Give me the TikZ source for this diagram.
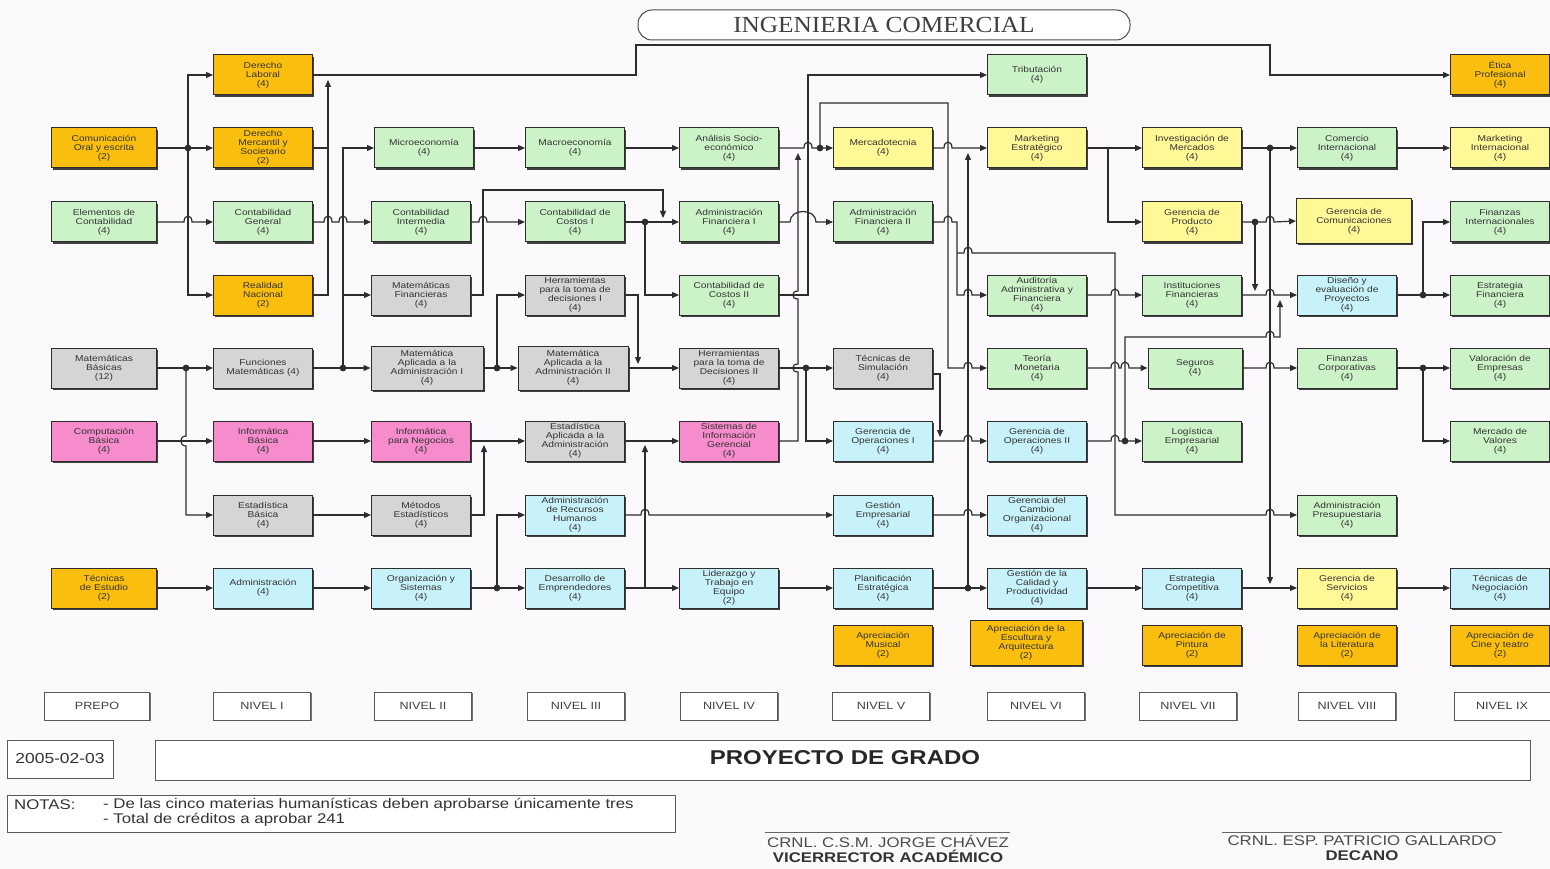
\documentclass[tikz,border=0pt]{standalone}
\usepackage{fontspec}
\setmainfont{Liberation Sans}[FakeStretch=1.2]
\newfontfamily\titlefont{Liberation Serif}[FakeStretch=1.1]
\usetikzlibrary{arrows.meta,shadows}

\definecolor{cOrange}{RGB}{250,190,15}
\definecolor{cGreen}{RGB}{204,242,200}
\definecolor{cGray}{RGB}{214,212,214}
\definecolor{cPink}{RGB}{246,140,204}
\definecolor{cCyan}{RGB}{200,242,250}
\definecolor{cYellow}{RGB}{255,248,150}
\definecolor{cBg}{RGB}{252,249,252}
\definecolor{cLine}{RGB}{45,45,45}

\tikzset{
  course/.style={draw=cLine, line width=1pt, minimum width=99pt, minimum height=40pt,
    text width=97pt, align=center, inner sep=0.5pt, font=\fontsize{8.5}{9.1}\selectfont,
    text=black!80, general shadow={shadow xshift=1.6pt, shadow yshift=-1.6pt, fill=black!75}},
  boxO/.style={course, fill=cOrange},
  boxG/.style={course, fill=cGreen},
  boxK/.style={course, fill=cGray},
  boxP/.style={course, fill=cPink},
  boxC/.style={course, fill=cCyan},
  boxY/.style={course, fill=cYellow},
  prepo/.style={minimum width=105pt},
  level/.style={draw=black!65, line width=0.8pt, fill=white, minimum width=97pt,
    minimum height=28pt, font=\fontsize{10.5}{12}\selectfont, text=black!75,
    general shadow={shadow xshift=1.3pt, shadow yshift=-1.3pt, fill=black!55}},
  conn/.style={draw=cLine, line width=1.2pt, -{Triangle[length=7pt,width=6pt]}},
  wire/.style={draw=cLine, line width=1.2pt},
  frame/.style={draw=black!65, line width=0.8pt, fill=white},
}

\begin{document}
\begin{tikzpicture}[x=1pt,y=-1pt]
\fill[cBg] (0,0) rectangle (1550,869);
\useasboundingbox (0,0) rectangle (1550,869);

% title
\node[draw=black!70, line width=1pt, rounded corners=14pt, fill=white, minimum width=492pt,
  minimum height=30pt, font=\titlefont\fontsize{23}{25}\selectfont, text=black!75]
  (title) at (884,25) {INGENIERIA COMERCIAL};

% ---------- PREPO ----------
\node[boxO,prepo] (com) at (104,148) {Comunicación\\Oral y escrita\\(2)};
\node[boxG,prepo] (elc) at (104,222) {Elementos de\\Contabilidad\\(4)};
\node[boxK,prepo] (mab) at (104,368) {Matemáticas\\Básicas\\(12)};
\node[boxP,prepo] (cob) at (104,441) {Computación\\Básica\\(4)};
\node[boxO,prepo] (tes) at (104,588) {Técnicas\\de Estudio\\(2)};

% ---------- NIVEL I ----------
\node[boxO] (dlab) at (263,75) {Derecho\\Laboral\\(4)};
\node[boxO] (dmer) at (263,148) {Derecho\\Mercantil y\\Societario\\(2)};
\node[boxG] (cgen) at (263,222) {Contabilidad\\General\\(4)};
\node[boxO] (rnac) at (263,295) {Realidad\\Nacional\\(2)};
\node[boxK] (fmat) at (263,368) {Funciones\\Matemáticas (4)};
\node[boxP] (infb) at (263,441) {Informática\\Básica\\(4)};
\node[boxK] (estb) at (263,515) {Estadística\\Básica\\(4)};
\node[boxC] (adm)  at (263,588) {Administración\\(4)};

% ---------- NIVEL II ----------
\node[boxG] (micro) at (424,148) {Microeconomía\\(4)};
\node[boxG] (cint)  at (421,222) {Contabilidad\\Intermedia\\(4)};
\node[boxK] (mfin)  at (421,295) {Matemáticas\\Financieras\\(4)};
\node[boxK, minimum width=112pt, minimum height=44pt] (mapl1) at (427,368) {Matemática\\Aplicada a la\\Administración I\\(4)};
\node[boxP] (infn)  at (421,441) {Informática\\para Negocios\\(4)};
\node[boxK] (mest)  at (421,515) {Métodos\\Estadísticos\\(4)};
\node[boxC] (orgs)  at (421,588) {Organización y\\Sistemas\\(4)};

% ---------- NIVEL III ----------
\node[boxG] (macro) at (575,148) {Macroeconomía\\(4)};
\node[boxG] (cco1)  at (575,222) {Contabilidad de\\Costos I\\(4)};
\node[boxK] (her1)  at (575,295) {Herramientas\\para la toma de\\decisiones I\\(4)};
\node[boxK, minimum width=110pt, minimum height=44pt] (mapl2) at (573,368) {Matemática\\Aplicada a la\\Administración II\\(4)};
\node[boxK] (esta)  at (575,441) {Estadística\\Aplicada a la\\Administración\\(4)};
\node[boxC] (arh)   at (575,515) {Administración\\de Recursos\\Humanos\\(4)};
\node[boxC] (demp)  at (575,588) {Desarrollo de\\Emprendedores\\(4)};

% ---------- NIVEL IV ----------
\node[boxG] (ase)  at (729,148) {Análisis Socio-\\económico\\(4)};
\node[boxG] (af1)  at (729,222) {Administración\\Financiera I\\(4)};
\node[boxG] (cco2) at (729,295) {Contabilidad de\\Costos II\\(4)};
\node[boxK] (her2) at (729,368) {Herramientas\\para la toma de\\Decisiones II\\(4)};
\node[boxP] (sig)  at (729,441) {Sistemas de\\Información\\Gerencial\\(4)};
\node[boxC] (lid)  at (729,588) {Liderazgo y\\Trabajo en\\Equipo\\(2)};

% ---------- NIVEL V ----------
\node[boxY] (merc) at (883,148) {Mercadotecnia\\(4)};
\node[boxG] (af2)  at (883,222) {Administración\\Financiera II\\(4)};
\node[boxK] (tsim) at (883,368) {Técnicas de\\Simulación\\(4)};
\node[boxC] (gop1) at (883,441) {Gerencia de\\Operaciones I\\(4)};
\node[boxC] (gemp) at (883,515) {Gestión\\Empresarial\\(4)};
\node[boxC] (pest) at (883,588) {Planificación\\Estratégica\\(4)};
\node[boxO] (amus) at (883,645) {Apreciación\\Musical\\(2)};

% ---------- NIVEL VI ----------
\node[boxG] (trib) at (1037,75)  {Tributación\\(4)};
\node[boxY] (mkte) at (1037,148) {Marketing\\Estratégico\\(4)};
\node[boxG] (audi) at (1037,295) {Auditoría\\Administrativa y\\Financiera\\(4)};
\node[boxG] (tmon) at (1037,368) {Teoría\\Monetaria\\(4)};
\node[boxC] (gop2) at (1037,441) {Gerencia de\\Operaciones II\\(4)};
\node[boxC] (gcam) at (1037,515) {Gerencia del\\Cambio\\Organizacional\\(4)};
\node[boxC] (gcal) at (1037,588) {Gestión de la\\Calidad y\\Productividad\\(4)};
\node[boxO, minimum width=112pt, minimum height=45pt, text width=110pt] (aesc) at (1026,643) {Apreciación de la\\Escultura y\\Arquitectura\\(2)};

% ---------- NIVEL VII ----------
\node[boxY] (imer) at (1192,148) {Investigación de\\Mercados\\(4)};
\node[boxY] (gpro) at (1192,222) {Gerencia de\\Producto\\(4)};
\node[boxG] (ifin) at (1192,295) {Instituciones\\Financieras\\(4)};
\node[boxG, minimum width=94pt, text width=92pt] (seg) at (1195,368) {Seguros\\(4)};
\node[boxG] (logi) at (1192,441) {Logística\\Empresarial\\(4)};
\node[boxC] (ecom) at (1192,588) {Estrategia\\Competitiva\\(4)};
\node[boxO] (apin) at (1192,645) {Apreciación de\\Pintura\\(2)};

% ---------- NIVEL VIII ----------
\node[boxG] (cinter) at (1347,148) {Comercio\\Internacional\\(4)};
\node[boxY, minimum width=115pt, minimum height=45pt, text width=112pt] (gcom) at (1354,221) {Gerencia de\\Comunicaciones\\(4)};
\node[boxC] (dep)  at (1347,295) {Diseño y\\evaluación de\\Proyectos\\(4)};
\node[boxG] (fcor) at (1347,368) {Finanzas\\Corporativas\\(4)};
\node[boxG] (apre) at (1347,515) {Administración\\Presupuestaria\\(4)};
\node[boxY] (gser) at (1347,588) {Gerencia de\\Servicios\\(4)};
\node[boxO] (alit) at (1347,645) {Apreciación de\\la Literatura\\(2)};

% ---------- NIVEL IX ----------
\node[boxO] (etic)  at (1500,75)  {Ética\\Profesional\\(4)};
\node[boxY] (mkti)  at (1500,148) {Marketing\\Internacional\\(4)};
\node[boxG] (finti) at (1500,222) {Finanzas\\Internacionales\\(4)};
\node[boxG] (efin)  at (1500,295) {Estrategia\\Financiera\\(4)};
\node[boxG] (vemp)  at (1500,368) {Valoración de\\Empresas\\(4)};
\node[boxG] (mval)  at (1500,441) {Mercado de\\Valores\\(4)};
\node[boxC] (tneg)  at (1500,588) {Técnicas de\\Negociación\\(4)};
\node[boxO] (acin)  at (1500,645) {Apreciación de\\Cine y teatro\\(2)};

% ---------- junctions ----------
\coordinate (J1)  at (188,148);
\coordinate (J2)  at (186,368);
\coordinate (J3)  at (343,368);
\coordinate (J4)  at (645,222);
\coordinate (J5)  at (497,368);
\coordinate (J6)  at (497,588);
\coordinate (J7)  at (820,148);
\coordinate (J8)  at (806,368);
\coordinate (J9)  at (968,588);
\coordinate (J11) at (1125,441);
\coordinate (J12) at (1270,148);
\coordinate (J13) at (1255,222);
\coordinate (J14) at (1423,295);
\coordinate (J15) at (1423,368);

% ---------- PREPO -> I ----------
\draw[conn] (com.east) -- (dmer.west);
\draw[conn] (J1) |- (dlab.west);
\draw[conn] (J1) |- (rnac.west);
\draw[conn] (elc.east) -- (184,222) .. controls (184,214) and (192,214) .. (192,222) -- (cgen.west);
\draw[conn] (mab.east) -- (fmat.west);
\draw[conn] (J2) -- (186,436) .. controls (179,436) and (179,446) .. (186,446) |- (estb.west);
\draw[conn] (cob.east) -- (infb.west);
\draw[conn] (tes.east) -- (adm.west);

% ---------- I -> II, and the long top line ----------
\draw[conn] (dlab.east) -- (636,75) -- (636,45) -- (1270,45) -- (1270,75) -- (etic.west);
\draw[wire] (dmer.east) -- (328,148);
\draw[conn] (rnac.east) -- (328,295) -- (328,80);
\draw[conn] (cgen.east) -- (324,222) .. controls (324,214) and (332,214) .. (332,222)
  -- (339,222) .. controls (339,214) and (347,214) .. (347,222) -- (cint.west);
\draw[conn] (fmat.east) -- (mapl1.west);
\draw[conn] (J3) |- (micro.west);
\draw[conn] (343,295) -- (mfin.west);
\draw[conn] (infb.east) -- (infn.west);
\draw[conn] (estb.east) -- (mest.west);
\draw[conn] (adm.east) -- (orgs.west);

% ---------- II -> III ----------
\draw[conn] (micro.east) -- (macro.west);
\draw[conn] (cint.east) -- (479,222) .. controls (479,214) and (487,214) .. (487,222) -- (cco1.west);
\draw[conn] (mfin.east) -- (483,295) -- (483,190) -- (663,190) -- (663,218);
\draw[conn] (mapl1.east) -- (mapl2.west);
\draw[conn] (J5) |- (her1.west);
\draw[conn] (infn.east) -- (esta.west);
\draw[conn] (mest.east) -| (484,445);
\draw[conn] (orgs.east) -- (demp.west);
\draw[conn] (J6) |- (arh.west);

% ---------- III -> IV ----------
\draw[conn] (macro.east) -- (ase.west);
\draw[conn] (cco1.east) -- (af1.west);
\draw[conn] (J4) |- (cco2.west);
\draw[conn] (her1.east) -| (638,364);
\draw[conn] (mapl2.east) -- (her2.west);
\draw[conn] (esta.east) -- (sig.west);
\draw[conn] (demp.east) -- (lid.west);
\draw[conn] (645,588) -- (645,445);
\draw[conn] (arh.east) -- (641,515) .. controls (641,507) and (649,507) .. (649,515) -- (gemp.west);

% ---------- IV -> V ----------
\draw[conn] (ase.east) -- (804,148) .. controls (804,140) and (812,140) .. (812,148) -- (merc.west);
\draw[conn] (sig.east) -- (798,441) -- (798,372) .. controls (791,372) and (791,364) .. (798,364)
  -- (798,299) .. controls (791,299) and (791,291) .. (798,291) -- (798,153);
\draw[conn] (cco2.east) -- (808,295) -- (808,75) -- (trib.west);
\draw[conn] (af1.east) -- (790,222) .. controls (790,208) and (816,208) .. (816,222) -- (af2.west);
\draw[conn] (her2.east) -- (tsim.west);
\draw[conn] (J8) |- (gop1.west);
\draw[conn] (lid.east) -- (pest.west);

% ---------- V -> VI ----------
\draw[conn] (J7) -- (820,103) -- (948,103) -- (948,368)
  -- (964,368) .. controls (964,360) and (972,360) .. (972,368) -- (tmon.west);
\draw[conn] (merc.east) -- (944,148) .. controls (944,140) and (952,140) .. (952,148) -- (mkte.west);
\draw[conn] (af2.east) -- (944,222) .. controls (944,214) and (952,214) .. (952,222) -- (957,222)
  -- (957,295) -- (964,295) .. controls (964,287) and (972,287) .. (972,295) -- (audi.west);
\draw[conn] (957,253) -- (964,253) .. controls (964,245) and (972,245) .. (972,253) -- (1115,253)
  -- (1115,515) -- (1266,515) .. controls (1266,507) and (1274,507) .. (1274,515) -- (apre.west);
\draw[conn] ([yshift=-6pt]tsim.east) -| (940,437);
\draw[conn] (gop1.east) -- (964,441) .. controls (964,433) and (972,433) .. (972,441) -- (gop2.west);
\draw[conn] (gemp.east) -- (964,515) .. controls (964,507) and (972,507) .. (972,515) -- (gcam.west);
\draw[conn] (pest.east) -- (gcal.west);
\draw[conn] (J9) -- (968,153);

% ---------- VI -> VII ----------
\draw[conn] (mkte.east) -- (imer.west);
\draw[conn] (1108,148) |- (gpro.west);
\draw[conn] (audi.east) -- (1111,295) .. controls (1111,287) and (1119,287) .. (1119,295) -- (ifin.west);
\draw[conn] (tmon.east) -- (1111,368) .. controls (1111,360) and (1119,360) .. (1119,368)
  -- (1121,368) .. controls (1121,360) and (1129,360) .. (1129,368) -- (seg.west);
\draw[conn] (gop2.east) -- (1111,441) .. controls (1111,433) and (1119,433) .. (1119,441) -- (logi.west);
\draw[conn] (J11) -- (1125,337) -- (1266,337) .. controls (1266,329) and (1274,329) .. (1274,337)
  -- (1280,337) -- (1280,300);
\draw[conn] (gcal.east) -- (ecom.west);

% ---------- VII -> VIII ----------
\draw[conn] (imer.east) -- (cinter.west);
\draw[conn] (J12) -- (1270,584);
\draw[conn] (gpro.east) -- (1266,222) .. controls (1266,214) and (1274,214) .. (1274,222) -- (gcom.west);
\draw[conn] (J13) -- (1255,291);
\draw[conn] (ifin.east) -- (1266,295) .. controls (1266,287) and (1274,287) .. (1274,295) -- (dep.west);
\draw[conn] (seg.east) -- (1266,368) .. controls (1266,360) and (1274,360) .. (1274,368) -- (fcor.west);
\draw[conn] (ecom.east) -- (gser.west);

% ---------- VIII -> IX ----------
\draw[conn] (cinter.east) -- (mkti.west);
\draw[conn] (dep.east) -- (efin.west);
\draw[conn] (J14) |- (finti.west);
\draw[conn] (fcor.east) -- (vemp.west);
\draw[conn] (J15) |- (mval.west);
\draw[conn] (gser.east) -- (tneg.west);

% junction dots
\foreach \j in {J1,J2,J3,J4,J5,J6,J7,J8,J9,J11,J12,J13,J14,J15}
  \fill[cLine] (\j) circle[radius=3.4pt];

% ---------- level labels ----------
\node[level, minimum width=105pt] (lv0) at (97,706) {PREPO};
\node[level] (lv1) at (262,706) {NIVEL I};
\node[level] (lv2) at (423,706) {NIVEL II};
\node[level] (lv3) at (576,706) {NIVEL III};
\node[level] (lv4) at (729,706) {NIVEL IV};
\node[level] (lv5) at (881,706) {NIVEL V};
\node[level] (lv6) at (1036,706) {NIVEL VI};
\node[level] (lv7) at (1188,706) {NIVEL VII};
\node[level] (lv8) at (1347,706) {NIVEL VIII};
\node[level, minimum width=96pt] (lv9) at (1502,706) {NIVEL IX};

% ---------- footer ----------
\node[frame, minimum width=106pt, minimum height=38pt, font=\fontsize{14.5}{16}\selectfont, text=black!80]
  (fecha) at (60,759) {2005-02-03};
\node[frame, minimum width=1375pt, minimum height=40pt] (pgbox) at (842.5,760) {};
\node[font=\bfseries\fontsize{20}{22}\selectfont, text=black!85] (pgtext) at (845,758) {PROYECTO DE GRADO};
\node[frame, minimum width=668pt, minimum height=37pt] (notas) at (341,813.5) {};
\node[anchor=west, font=\fontsize{14}{16}\selectfont, text=black!80, inner sep=0pt] (notas1) at (14,805) {NOTAS:};
\node[anchor=west, font=\fontsize{14}{16}\selectfont, text=black!80, inner sep=0pt] (notas2) at (103,805)
  {- De las cinco materias humanísticas deben aprobarse únicamente tres};
\node[anchor=west, font=\fontsize{14}{16}\selectfont, text=black!80, inner sep=0pt] (notas3) at (103,820)
  {- Total de créditos a aprobar 241};

% signatures
\draw[black!60, line width=0.8pt] (765,832) -- (1010,832);
\node[font=\fontsize{14}{16}\selectfont, text=black!70, inner sep=0pt] (firma1) at (888,841) {CRNL. C.S.M. JORGE CHÁVEZ};
\node[font=\bfseries\fontsize{14}{16}\selectfont, text=black!80, inner sep=0pt] (cargo1) at (888,856) {VICERRECTOR ACADÉMICO};
\draw[black!60, line width=0.8pt] (1222,832) -- (1502,832);
\node[font=\fontsize{14}{16}\selectfont, text=black!70, inner sep=0pt] (firma2) at (1362,841) {CRNL. ESP. PATRICIO GALLARDO};
\node[font=\bfseries\fontsize{14}{16}\selectfont, text=black!80, inner sep=0pt] (cargo2) at (1362,856) {DECANO};
\end{tikzpicture}
\end{document}
